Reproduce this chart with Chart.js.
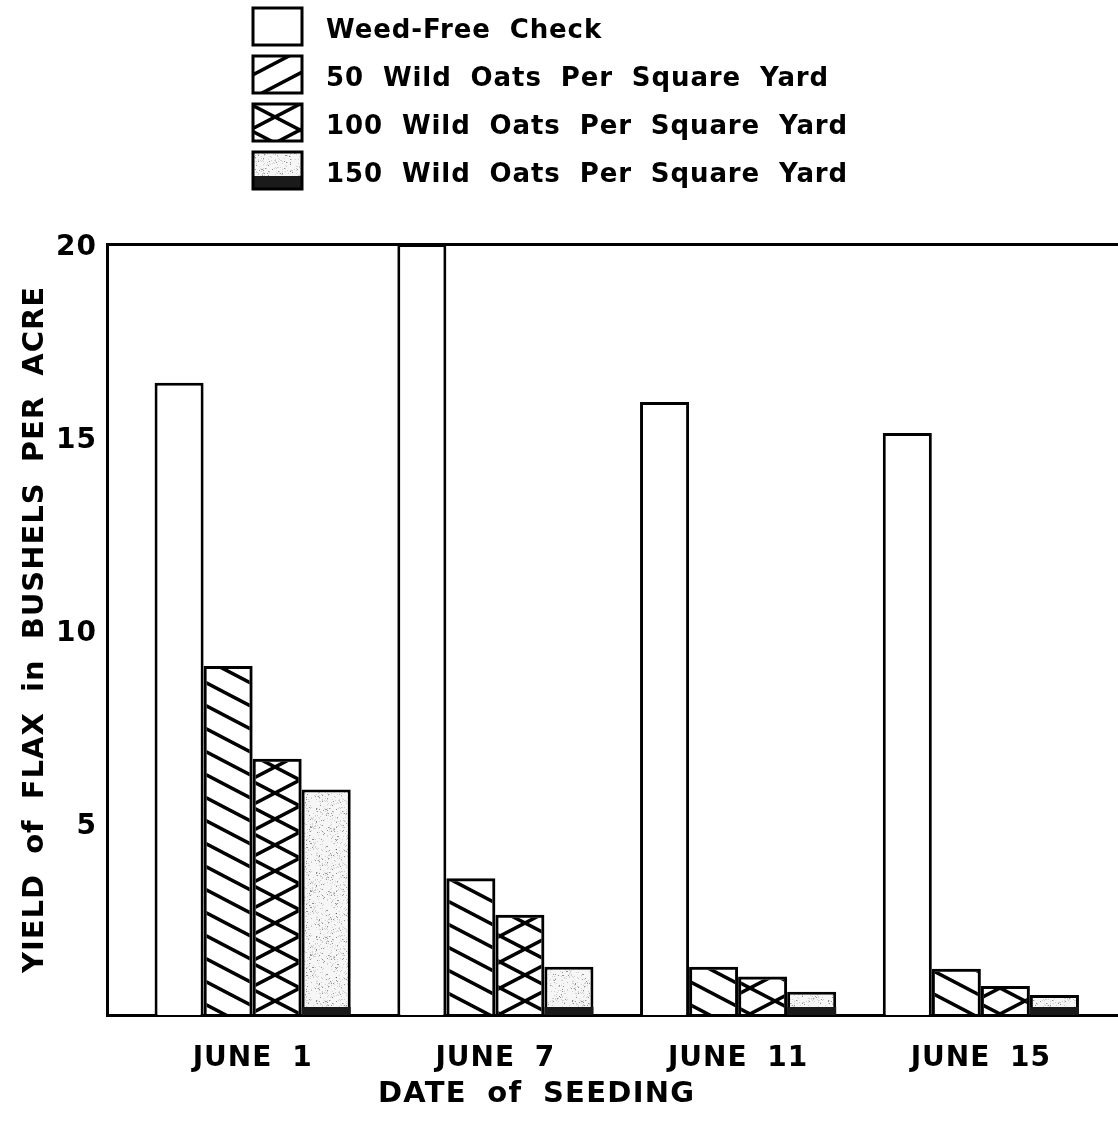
<!DOCTYPE html>
<html>
<head>
<meta charset="utf-8">
<title>Yield of flax by date of seeding</title>
<script src="https://cdn.jsdelivr.net/npm/chart.js@4.4.1/dist/chart.umd.min.js"></script>
<style>
  html, body { margin: 0; padding: 0; background: #fff; }
  #wrap { position: relative; width: 1118px; height: 1139px; }
</style>
</head>
<body>
<div id="wrap"><canvas id="flaxChart"></canvas></div>
<script>
// data (bushels per acre)
const seedingDates = ['JUNE 1', 'JUNE 7', 'JUNE 11', 'JUNE 15'];
const seriesNames = [
  'Weed-Free Check',
  '50 Wild Oats Per Square Yard',
  '100 Wild Oats Per Square Yard',
  '150 Wild Oats Per Square Yard'
];
const weedFree = [16.4, 20.0, 15.9, 15.1];
const oats50 = [9.05, 3.55, 1.25, 1.2];
const oats100 = [6.65, 2.6, 1.0, 0.75];
const oats150 = [5.85, 1.25, 0.6, 0.52];
const yTicks = [5, 10, 15, 20];
const yTitle = 'YIELD of FLAX in BUSHELS PER ACRE';
const xTitle = 'DATE of SEEDING';

const FONT = '"DejaVu Sans", "Liberation Sans", sans-serif';
Chart.defaults.font.family = FONT;
Chart.defaults.font.weight = 'bold';
Chart.defaults.color = '#000';

const canvas = document.getElementById('flaxChart');
const mainCtx = canvas.getContext('2d');

function makeTile(w, h, draw) {
  const c = document.createElement('canvas');
  c.width = w;
  c.height = h;
  draw(c.getContext('2d'), w, h);
  return mainCtx.createPattern(c, 'repeat');
}

// diagonal lines, dir 1 = "\" , dir -1 = "/"
function hatch(g, w, h, dir) {
  g.strokeStyle = '#000';
  g.lineWidth = 3.5;
  for (let k = -2; k <= 2; k++) {
    g.beginPath();
    if (dir > 0) {
      g.moveTo(-w, k * h - h);
      g.lineTo(2 * w, k * h + 2 * h);
    } else {
      g.moveTo(-w, k * h + 2 * h);
      g.lineTo(2 * w, k * h - h);
    }
    g.stroke();
  }
}

function stipple(g, w, h) {
  g.fillStyle = '#f6f6f6';
  g.fillRect(0, 0, w, h);
  let s = 12345;
  for (let i = 0; i < 600; i++) {
    s = (s * 16807) % 2147483647;
    const x = s % w;
    s = (s * 16807) % 2147483647;
    const y = s % h;
    g.fillStyle = i % 4 === 0 ? 'rgba(0,0,0,0.4)' : 'rgba(120,120,120,0.3)';
    g.fillRect(x, y, 1, 1);
  }
}

const backHatch = makeTile(44, 23, (g, w, h) => hatch(g, w, h, 1));
const fwdHatch = makeTile(44, 23, (g, w, h) => hatch(g, w, h, -1));
const crossHatch = makeTile(50, 26, (g, w, h) => { hatch(g, w, h, 1); hatch(g, w, h, -1); });
const speckle = makeTile(64, 64, stipple);

function setSpacing(ctx, letter) {
  ctx.letterSpacing = (letter || 1) + 'px';
  ctx.wordSpacing = '9px';
}

const spacingPlugin = {
  id: 'spacing',
  beforeLayout(chart) { setSpacing(chart.ctx); },
  beforeDraw(chart) { setSpacing(chart.ctx); }
};

// dark band at the foot of the 150-oats bars
const footBand = {
  id: 'footBand',
  afterDatasetsDraw(chart) {
    const ctx = chart.ctx;
    const meta = chart.getDatasetMeta(3);
    ctx.save();
    ctx.fillStyle = '#1a1a1a';
    meta.data.forEach(bar => {
      const { x, y, base, width } = bar.getProps(['x', 'y', 'base', 'width'], true);
      const band = Math.min(8, base - y);
      ctx.fillRect(x - width / 2, base - band, width, band);
    });
    ctx.restore();
  }
};

// stacked legend at the top and the x axis caption
const boxLegend = {
  id: 'boxLegend',
  afterDraw(chart) {
    const ctx = chart.ctx;
    const left = 253, top = 8, pitch = 48, bw = 49, bh = 37, textX = 326;
    ctx.save();
    setSpacing(ctx, 0.9);
    chart.data.datasets.forEach((ds, i) => {
      const y = top + i * pitch;
      ctx.fillStyle = ds.legendFill || ds.backgroundColor;
      ctx.fillRect(left, y, bw, bh);
      if (i === 3) {
        ctx.fillStyle = '#1a1a1a';
        ctx.fillRect(left, y + bh - 13, bw, 13);
      }
      ctx.strokeStyle = '#000';
      ctx.lineWidth = 3;
      ctx.strokeRect(left, y, bw, bh);
      ctx.fillStyle = '#000';
      ctx.font = 'bold 26px ' + FONT;
      ctx.textAlign = 'left';
      ctx.textBaseline = 'middle';
      ctx.fillText(ds.label, textX, y + bh / 2 + 5);
    });
    setSpacing(ctx, 1.3);
    const area = chart.chartArea;
    ctx.font = 'bold 29px ' + FONT;
    ctx.textAlign = 'center';
    ctx.textBaseline = 'middle';
    ctx.fillText(xTitle, area.left + (area.right - area.left) * 0.425, area.bottom + 79);
    ctx.restore();
  }
};

const seriesValues = [weedFree, oats50, oats100, oats150];
const fills = ['#ffffff', backHatch, crossHatch, speckle];
const legendFills = ['#ffffff', fwdHatch, crossHatch, speckle];

new Chart(canvas, {
  type: 'bar',
  data: {
    datasets: seriesValues.map((vals, i) => ({
      label: seriesNames[i],
      data: vals.map((v, j) => ({ x: j, y: v })),
      backgroundColor: fills[i],
      legendFill: legendFills[i],
      borderColor: '#000',
      borderWidth: 3,
      categoryPercentage: 0.808,
      barPercentage: 1
    }))
  },
  options: {
    responsive: true,
    maintainAspectRatio: false,
    animation: false,
    layout: { padding: { top: 244, left: 0, right: 0, bottom: 0 } },
    plugins: {
      legend: { display: false },
      tooltip: { enabled: false }
    },
    scales: {
      x: {
        type: 'linear',
        offset: false,
        min: -0.6,
        max: 3.565,
        afterBuildTicks: s => { s.ticks = seedingDates.map((_, i) => ({ value: i })); },
        afterFit: s => { s.height = 124; },
        ticks: {
          callback: v => seedingDates[v],
          autoSkip: false,
          maxRotation: 0,
          padding: 27,
          font: { size: 28 },
          color: '#000'
        },
        grid: { display: false, drawTicks: false },
        border: { display: true, color: '#000', width: 3 }
      },
      y: {
        min: 0,
        max: 20,
        afterBuildTicks: s => { s.ticks = yTicks.map(v => ({ value: v })); },
        afterFit: s => { s.width = 107; },
        ticks: { padding: 10, labelOffset: 4, font: { size: 28 }, color: '#000' },
        grid: {
          drawTicks: false,
          lineWidth: 3,
          color: c => (c.tick && c.tick.value === 20 ? '#000' : 'rgba(0,0,0,0)')
        },
        border: { display: true, color: '#000', width: 3 },
        title: {
          display: true,
          text: yTitle,
          font: { size: 29 },
          color: '#000',
          padding: { top: 18, bottom: 0 }
        }
      }
    }
  },
  plugins: [spacingPlugin, footBand, boxLegend]
});
</script>
</body>
</html>
